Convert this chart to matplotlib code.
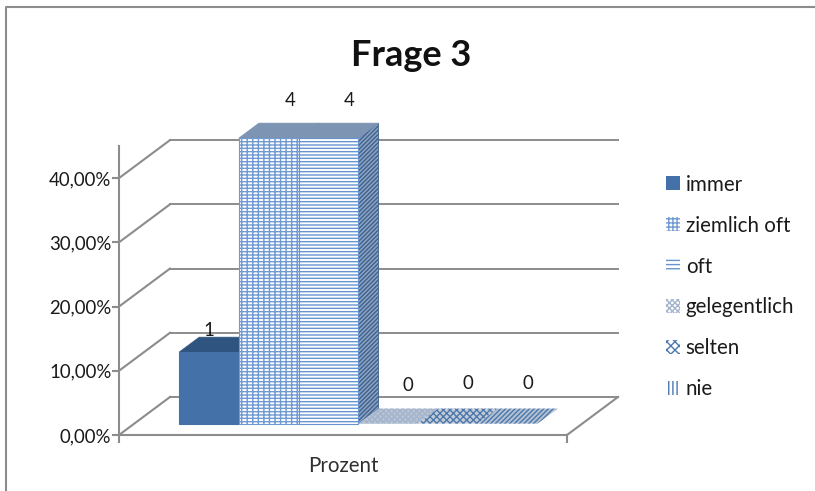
import matplotlib
matplotlib.use('Agg')
import matplotlib.pyplot as plt
from matplotlib.patches import Polygon, Patch
from matplotlib.lines import Line2D
from matplotlib.transforms import Affine2D

plt.rcParams['font.family'] = ['Lato', 'DejaVu Sans']
plt.rcParams['hatch.linewidth'] = 1.0

# survey answers
categories = ['immer', 'ziemlich oft', 'oft', 'gelegentlich', 'selten', 'nie']
values = [11.11, 44.44, 44.44, 0.0, 0.0, 0.0]
counts = [1, 4, 4, 0, 0, 0]
yticks = [0, 10, 20, 30, 40]
ytick_labels = ['0,00%', '10,00%', '20,00%', '30,00%', '40,00%']

# fill, hatch, hatch colour per series
front_style = [('#4472a8', None, '#4472a8'),
               ('white', '-----|||', '#6f9ad2'),
               ('white', '-----', '#6794cf'),
               ('#b9c4d4', 'xxxxxx', '#a3b4cc'),
               ('#c5ccd6', 'XXXXX', '#4a78ad'),
               ('#b4c1d2', '///////', '#4a78ad')]
legend_hatch = [None, '++++', '----', 'xxxxxx', 'XXXX', '||||']

# label offset from the bar's front face (pixels)
label_dx = [0, 21, 21, 20, 20, 20]
label_dy = [22, 38, 38, 38, 40, 40]

W, H = 815, 491
fig = plt.figure(figsize=(W/100, H/100), dpi=100)

# the front plane of the 3d box
x0, x1, y0, y_top = 119, 567, 435, 146
ax = fig.add_axes([x0/W, 1-y0/H, (x1-x0)/W, (y0-y_top)/H])
ax.set_xlim(-1.25, 6.25)
ax.set_ylim(0, 45)
ax.patch.set_visible(False)

for s in ['top', 'right']:
    ax.spines[s].set_visible(False)
grey = '#8c8c8c'
for s in ['left', 'bottom']:
    ax.spines[s].set_color(grey)
    ax.spines[s].set_linewidth(1.5)

ax.set_yticks(yticks)
ax.set_yticklabels(ytick_labels, fontsize=13.4, color='#1a1a1a')
ax.tick_params(axis='y', length=5, width=1.5, color=grey, pad=0.5)
ax.set_xticks([2.5])
ax.set_xticklabels(['Prozent'], fontsize=14.8, color='#303030')
ax.tick_params(axis='x', length=0, pad=15)


def depth(d):
    # moves things back into the box, d=1 is the back wall
    return ax.transData + Affine2D().translate(51*d, 38*d)


def conn(d0, d1, x, v0, v1):
    # line joining a point on one depth plane with a point on another
    p0 = depth(d0).transform((x, v0))
    p1 = depth(d1).transform((x, v1))
    return Line2D([p0[0], p1[0]], [p0[1], p1[1]], transform=None, color=grey,
                  lw=1.5, clip_on=False, zorder=1)


# gridlines on the back wall and the left side
for v in yticks:
    ax.plot([-1.25, 6.25], [v, v], transform=depth(1), color=grey, lw=1.4,
            clip_on=False, zorder=1)
    ax.add_line(conn(0, 1, -1.25, v, v))
ax.add_line(conn(0, 1, 6.25, 0, 0))
ax.plot([6.25, 6.25], [0, -1.1], color=grey, lw=1.5, clip_on=False, zorder=1)
ax.plot([-1.25, -1.25], [0, -1.1], color=grey, lw=1.5, clip_on=False, zorder=1)

# bars, left to right so the next bar's front hides the side of the one before
d_front, d_back = 0.30, 0.695
for i, v in enumerate(values):
    face, hatch, hc = front_style[i]
    l, r = i-0.5, i+0.5
    pf = [depth(d_front).transform(p) for p in [(l, 0), (r, 0), (r, v), (l, v)]]
    pb = [depth(d_back).transform(p) for p in [(l, 0), (r, 0), (r, v), (l, v)]]
    z = 3 + i*0.1
    if v > 0:
        side = Polygon([pf[1], pb[1], pb[2], pf[2]], transform=None, facecolor='#8ea3bf',
                       edgecolor='#3d628f', hatch='////////', lw=0.6, zorder=z,
                       clip_on=False)
        ax.add_patch(side)
        top_col = '#2f5480' if hatch is None else '#7d94b3'
        top = Polygon([pf[3], pf[2], pb[2], pb[3]], transform=None, facecolor=top_col,
                      edgecolor=top_col, lw=0.6, zorder=z, clip_on=False)
        ax.add_patch(top)
        front = Polygon(pf, transform=None, facecolor=face, edgecolor=hc, hatch=hatch,
                        lw=0.8, zorder=z+0.05, clip_on=False)
        ax.add_patch(front)
    else:
        # empty series only show up as a flat patch on the floor
        floor = Polygon([pf[0], pf[1], pb[1], pb[0]], transform=None, facecolor=face,
                        edgecolor=hc, hatch=hatch, lw=0, zorder=z, clip_on=False)
        ax.add_patch(floor)

# value labels
for i, c in enumerate(counts):
    ax.annotate(str(c), xy=(i, values[i]), xycoords=depth(d_front),
                xytext=(label_dx[i], label_dy[i]), textcoords='offset pixels', ha='center',
                va='center', fontsize=13.4, color='#1a1a1a', zorder=8, annotation_clip=False)

# legend
handles = []
for (face, hatch, hc), lh, name in zip(front_style, legend_hatch, categories):
    handles.append(Patch(facecolor='#4472a8' if lh is None else 'white', edgecolor=hc,
                         hatch=lh, lw=0, label=name))
leg = fig.legend(handles=handles, loc='center left', bbox_to_anchor=(666/W, 1-287/H),
                 frameon=False, fontsize=14.8, handlelength=0.66, handleheight=0.66,
                 handletextpad=0.3, labelspacing=1.02, borderpad=0, borderaxespad=0,
                 labelcolor='#1a1a1a')

fig.text(411/W, 1-56/H, 'Frage 3', ha='center', va='center', fontsize=26, fontweight='bold',
         color='#111111')

# chart frame, only the top and left edges are there
fig.add_artist(Line2D([5.5/W, 5.5/W, 1], [0, 1-7/H, 1-7/H], transform=fig.transFigure,
                      color='#8c8c8c', lw=1.5))

fig.savefig('out.png', dpi=100)
